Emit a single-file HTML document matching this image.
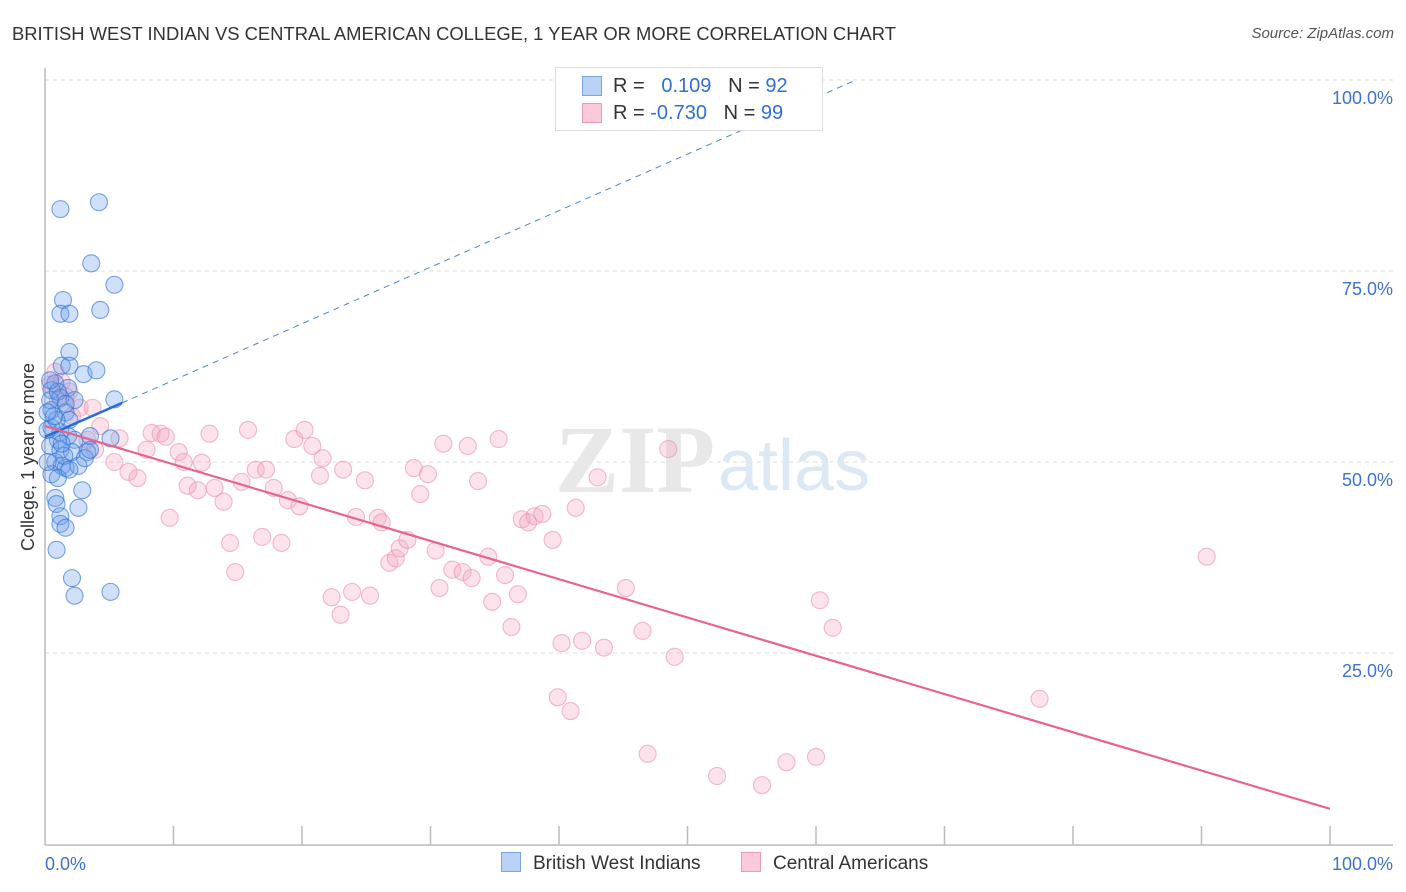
<!DOCTYPE html>
<html><head><meta charset="utf-8"><style>
body{margin:0;background:#fff;font-family:"Liberation Sans",sans-serif;}
#wrap{position:relative;width:1406px;height:892px;overflow:hidden;}
.t{position:absolute;white-space:nowrap;}
</style></head><body>
<div id="wrap">
<div class="t" style="left:12px;top:23px;font-size:18.4px;color:#333;">BRITISH WEST INDIAN VS CENTRAL AMERICAN COLLEGE, 1 YEAR OR MORE CORRELATION CHART</div>
<div class="t" style="right:12px;top:25px;font-size:15px;color:#555;font-style:italic;">Source: ZipAtlas.com</div>
<svg id="plot" width="1406" height="892" style="position:absolute;left:0;top:0"></svg>
</div>
<script>
const yTicks=[100,75,50,25];
const yTickLabels=["100.0%","75.0%","50.0%","25.0%"];
const xTickLabels=["0.0%","100.0%"];
const blueX=[1.2,4.2,3.6,5.4,1.4,1.2,1.9,4.3,1.9,1.3,1.9,3.0,4.0,0.8,1.8,0.5,1.2,2.3,5.4,0.5,1.6,1.9,0.5,1.2,1.8,1.0,2.3,3.5,5.1,0.4,1.2,2.1,3.3,0.8,1.3,1.6,2.6,0.5,1.0,2.9,0.8,0.9,2.6,1.2,1.2,1.6,0.9,2.1,2.3,5.1,0.4,0.2,0.2,0.9,1.5,1.9,1.0,1.6,0.7,1.3,3.1,0.2,0.4,3.5];
const blueY=[83.1,84.0,76.0,73.2,71.2,69.4,69.4,69.9,64.4,62.6,62.6,61.5,62.0,60.3,59.7,59.4,58.4,58.1,58.2,56.8,56.5,55.5,54.5,53.9,53.4,52.9,52.9,53.4,53.1,52.1,51.6,51.3,51.3,50.0,49.5,49.2,49.5,48.4,47.9,46.3,45.3,44.5,44.0,42.9,41.9,41.4,38.5,34.8,32.5,33.0,58.1,54.2,50.0,55.5,50.8,49.0,59.2,57.6,56.0,52.4,50.5,56.5,60.7,51.6];
const pinkX=[0.8,0.4,1.3,1.9,1.0,2.7,2.1,4.3,3.3,5.8,3.9,5.4,6.5,7.2,7.9,8.3,9.0,9.4,10.4,10.8,9.7,11.1,11.9,12.2,12.8,13.2,13.9,14.4,14.8,15.3,15.8,16.4,16.9,17.2,17.8,18.4,18.9,19.4,19.8,20.2,20.8,21.4,21.6,22.3,23.0,23.2,23.9,24.2,24.9,25.3,25.9,26.2,26.8,27.3,27.6,28.2,28.7,29.2,29.8,30.4,30.7,31.0,31.7,32.5,32.9,33.2,33.7,34.5,34.8,35.3,35.8,36.3,36.8,37.1,37.6,38.1,38.7,39.5,39.9,40.2,40.9,41.3,41.8,43.0,43.5,45.2,46.5,46.9,48.5,49.0,52.3,55.8,57.7,60.0,60.3,61.3,77.4,90.4,3.7,1.6];
const pinkY=[61.8,60.1,60.5,59.2,58.1,57.1,56.0,54.7,52.9,53.1,51.6,50.0,48.7,47.9,51.6,53.8,53.7,53.3,51.3,50.0,42.7,46.9,46.3,49.9,53.7,46.6,44.8,39.4,35.6,47.4,54.2,49.0,40.2,49.0,46.6,39.4,45.0,53.0,44.2,54.2,52.1,48.2,50.5,32.3,30.0,49.0,33.0,42.8,47.6,32.5,42.7,42.1,36.8,37.4,38.7,39.8,49.2,45.8,48.4,38.4,33.5,52.4,35.9,35.6,52.1,34.8,47.5,37.6,31.7,53.0,35.2,28.4,32.7,42.5,42.1,42.9,43.2,39.8,19.2,26.3,17.4,44.0,26.6,48.0,25.7,33.5,27.9,11.8,51.7,24.5,8.9,7.7,10.7,11.4,31.9,28.3,19.0,37.6,57.1,58.6];
const blueTrend=[53.3,0.74];
const pinkTrend=[54.7,-0.501];

const NS="http://www.w3.org/2000/svg";
const svg=document.getElementById('plot');
const X0=45,X1=1330,Y0=844,Y100=80;
function sx(v){return X0+(X1-X0)*v/100;}
function sy(v){return Y0-(Y0-Y100)*v/100;}
function mk(tag,attrs,parent){const e=document.createElementNS(NS,tag);for(const k in attrs)e.setAttribute(k,attrs[k]);(parent||svg).appendChild(e);return e;}

yTicks.forEach((t,i)=>{
  const g=mk('line',{x1:45,x2:1393,y1:sy(t),y2:sy(t),stroke:'#ddd','stroke-dasharray':'4,4','stroke-width':1});
  
  
  const tx=mk('text',{x:1393,y:sy(t)+24,'text-anchor':'end','font-size':18,fill:'#3f72d0','font-family':'Liberation Sans, sans-serif'});
  tx.textContent=yTickLabels[i];
  
  
});
const ax=mk('line',{x1:45,x2:1393,y1:845,y2:845,stroke:'#bbb','stroke-width':1.5});


const ay=mk('line',{x1:45,x2:45,y1:68,y2:845,stroke:'#bbb','stroke-width':1.5});


for(let i=1;i<=10;i++){
  const tk=mk('line',{x1:sx(i*10),x2:sx(i*10),y1:826,y2:845,stroke:'#bbb','stroke-width':1.5});
  
  
}
const xl0=mk('text',{x:45,y:870,'font-size':18,fill:'#3f72d0','font-family':'Liberation Sans, sans-serif'});
xl0.textContent=xTickLabels[0];


const xl1=mk('text',{x:1393,y:870,'text-anchor':'end','font-size':18,fill:'#3f72d0','font-family':'Liberation Sans, sans-serif'});
xl1.textContent=xTickLabels[1];


const yt=mk('text',{x:34,y:457,'text-anchor':'middle','font-size':18,fill:'#333',transform:'rotate(-90 34 457)','font-family':'Liberation Sans, sans-serif'});
yt.textContent='College, 1 year or more';


const wm=mk('text',{x:555,y:492,'font-size':96,fill:'#e8e8e8','font-family':'Liberation Serif, serif','font-weight':'bold'});
wm.textContent='ZIP';


const wm2=mk('text',{x:718,y:490,'font-size':72,fill:'#dde8f5','font-family':'Liberation Sans, sans-serif'});
wm2.textContent='atlas';



pinkX.forEach((x,i)=>{
  const c=mk('circle',{cx:sx(x),cy:sy(pinkY[i]),r:8.5,fill:'rgba(244,165,192,0.32)',stroke:'rgba(236,140,172,0.6)','stroke-width':1.1});
  
  
});
blueX.forEach((x,i)=>{
  const c=mk('circle',{cx:sx(x),cy:sy(blueY[i]),r:8.5,fill:'rgba(110,160,232,0.32)',stroke:'rgba(50,115,215,0.65)','stroke-width':1.1});
  
  
});
const xEndBlue=(100-blueTrend[0])/blueTrend[1];
const bd=mk('line',{x1:sx(6),y1:sy(blueTrend[0]+blueTrend[1]*6),x2:sx(xEndBlue),y2:sy(100),stroke:'#4a84d8','stroke-width':1,'stroke-dasharray':'6,5'});


const bs=mk('line',{x1:sx(0),y1:sy(blueTrend[0]),x2:sx(6),y2:sy(blueTrend[0]+blueTrend[1]*6),stroke:'#2a6ad6','stroke-width':2.5});


const ps=mk('line',{x1:sx(0),y1:sy(pinkTrend[0]),x2:sx(100),y2:sy(pinkTrend[0]+pinkTrend[1]*100),stroke:'#e8648f','stroke-width':2.2});


</script>
<div class="t" style="left:555px;top:67px;width:266px;height:62px;border:1px solid #ddd;background:#fff;">
 <div style="position:absolute;left:26px;top:8px;width:20px;height:20px;background:#b8d3f5;border:1px solid #7aa7e4;box-sizing:border-box;"></div>
 <div style="position:absolute;left:26px;top:35px;width:20px;height:20px;background:#fbc9d8;border:1px solid #ec9ab5;box-sizing:border-box;"></div>
 <div class="t" style="left:57px;top:7px;font-size:20px;color:#333;">R = &nbsp;&nbsp;<span style="color:#2f6fd6">0.109</span>&nbsp;&nbsp;&nbsp;N = <span style="color:#2f6fd6">92</span></div>
 <div class="t" style="left:57px;top:34px;font-size:20px;color:#333;">R = <span style="color:#2f6fd6">-0.730</span>&nbsp;&nbsp;&nbsp;N = <span style="color:#2f6fd6">99</span></div>
</div>
<div class="t" style="left:501px;top:852px;font-size:19px;color:#333;"><span style="display:inline-block;width:20px;height:20px;background:#b8d3f5;border:1px solid #7aa7e4;box-sizing:border-box;vertical-align:-3px;margin-right:12px;"></span>British West Indians</div>
<div class="t" style="left:741px;top:852px;font-size:19px;color:#333;"><span style="display:inline-block;width:20px;height:20px;background:#fbc9d8;border:1px solid #ec9ab5;box-sizing:border-box;vertical-align:-3px;margin-right:12px;"></span>Central Americans</div>
</body></html>
